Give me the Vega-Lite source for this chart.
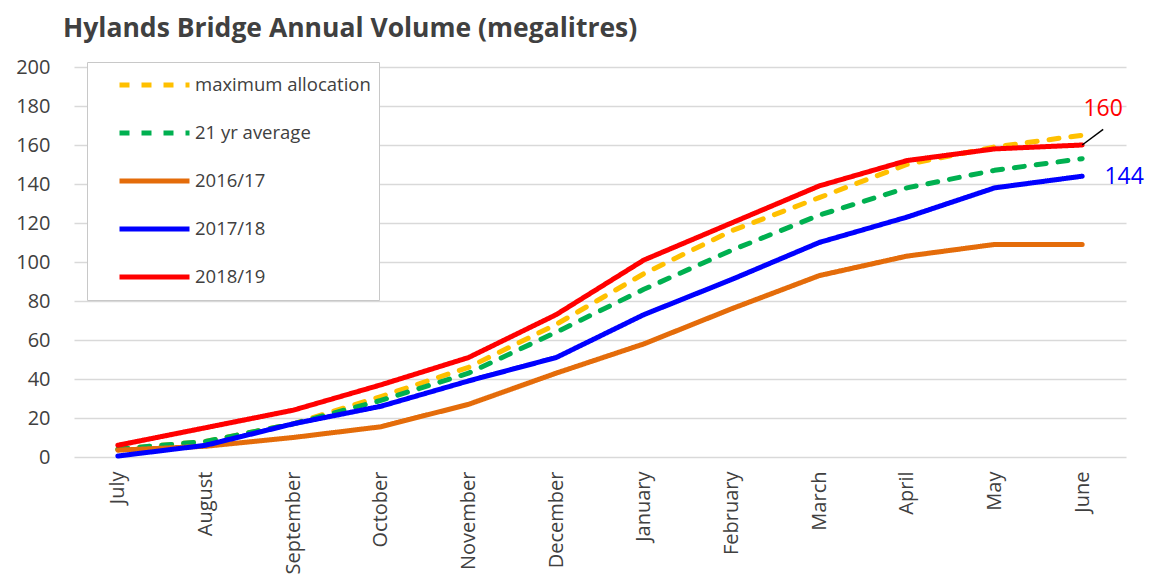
{
  "$schema": "https://vega.github.io/schema/vega-lite/v6.json",
  "autosize": "none",
  "width": 1052,
  "height": 390,
  "padding": {"left": 74, "top": 67, "right": 28, "bottom": 122},
  "background": "white",
  "title": {
    "text": "Hylands Bridge Annual Volume (megalitres)",
    "anchor": "start",
    "frame": "group",
    "dx": -11,
    "offset": 15,
    "font": "Open Sans",
    "fontSize": 26.5,
    "fontWeight": "bold",
    "color": "#404040"
  },
  "config": {
    "view": {"stroke": null},
    "font": "Open Sans"
  },
  "datasets": {
    "series": [
      {"month": "July", "series": "maximum allocation", "value": 4},
      {"month": "August", "series": "maximum allocation", "value": 8},
      {"month": "September", "series": "maximum allocation", "value": 17},
      {"month": "October", "series": "maximum allocation", "value": 31},
      {"month": "November", "series": "maximum allocation", "value": 46},
      {"month": "December", "series": "maximum allocation", "value": 68},
      {"month": "January", "series": "maximum allocation", "value": 94},
      {"month": "February", "series": "maximum allocation", "value": 116},
      {"month": "March", "series": "maximum allocation", "value": 133},
      {"month": "April", "series": "maximum allocation", "value": 150},
      {"month": "May", "series": "maximum allocation", "value": 159},
      {"month": "June", "series": "maximum allocation", "value": 165},
      {"month": "July", "series": "21 yr average", "value": 4},
      {"month": "August", "series": "21 yr average", "value": 8},
      {"month": "September", "series": "21 yr average", "value": 17},
      {"month": "October", "series": "21 yr average", "value": 29},
      {"month": "November", "series": "21 yr average", "value": 43},
      {"month": "December", "series": "21 yr average", "value": 64},
      {"month": "January", "series": "21 yr average", "value": 86},
      {"month": "February", "series": "21 yr average", "value": 106},
      {"month": "March", "series": "21 yr average", "value": 124},
      {"month": "April", "series": "21 yr average", "value": 138},
      {"month": "May", "series": "21 yr average", "value": 147},
      {"month": "June", "series": "21 yr average", "value": 153},
      {"month": "July", "series": "2016/17", "value": 3.5},
      {"month": "August", "series": "2016/17", "value": 5.5},
      {"month": "September", "series": "2016/17", "value": 10},
      {"month": "October", "series": "2016/17", "value": 15.5},
      {"month": "November", "series": "2016/17", "value": 27},
      {"month": "December", "series": "2016/17", "value": 43},
      {"month": "January", "series": "2016/17", "value": 58},
      {"month": "February", "series": "2016/17", "value": 76},
      {"month": "March", "series": "2016/17", "value": 93},
      {"month": "April", "series": "2016/17", "value": 103},
      {"month": "May", "series": "2016/17", "value": 109},
      {"month": "June", "series": "2016/17", "value": 109},
      {"month": "July", "series": "2017/18", "value": 0.5},
      {"month": "August", "series": "2017/18", "value": 6},
      {"month": "September", "series": "2017/18", "value": 17},
      {"month": "October", "series": "2017/18", "value": 26},
      {"month": "November", "series": "2017/18", "value": 39},
      {"month": "December", "series": "2017/18", "value": 51},
      {"month": "January", "series": "2017/18", "value": 73},
      {"month": "February", "series": "2017/18", "value": 91},
      {"month": "March", "series": "2017/18", "value": 110},
      {"month": "April", "series": "2017/18", "value": 123},
      {"month": "May", "series": "2017/18", "value": 138},
      {"month": "June", "series": "2017/18", "value": 144},
      {"month": "July", "series": "2018/19", "value": 6},
      {"month": "August", "series": "2018/19", "value": 15},
      {"month": "September", "series": "2018/19", "value": 24},
      {"month": "October", "series": "2018/19", "value": 37},
      {"month": "November", "series": "2018/19", "value": 51},
      {"month": "December", "series": "2018/19", "value": 73},
      {"month": "January", "series": "2018/19", "value": 101},
      {"month": "February", "series": "2018/19", "value": 120},
      {"month": "March", "series": "2018/19", "value": 139},
      {"month": "April", "series": "2018/19", "value": 152},
      {"month": "May", "series": "2018/19", "value": 158},
      {"month": "June", "series": "2018/19", "value": 160}
    ],
    "labels": [
      {"month": "June", "series": "2018/19", "value": 160, "label": "160", "end": 168},
      {"month": "June", "series": "2017/18", "value": 144, "label": "144", "end": 144}
    ]
  },
  "encoding": {
    "x": {
      "field": "month",
      "type": "ordinal",
      "sort": ["July", "August", "September", "October", "November", "December", "January", "February", "March", "April", "May", "June"],
      "scale": {"type": "point", "padding": 0.5},
      "axis": {
        "title": null,
        "labelAngle": -90,
        "labelFontSize": 20,
        "labelColor": "#404040",
        "labelPadding": 14,
        "ticks": false,
        "domain": false,
        "grid": false
      }
    },
    "y": {
      "field": "value",
      "type": "quantitative",
      "scale": {"domain": [0, 200], "nice": false},
      "axis": {
        "title": null,
        "values": [0, 20, 40, 60, 80, 100, 120, 140, 160, 180, 200],
        "labelFontSize": 20,
        "labelColor": "#404040",
        "labelPadding": 24,
        "ticks": false,
        "domain": false,
        "gridColor": "#d9d9d9",
        "gridWidth": 1.5
      }
    }
  },
  "layer": [
    {
      "data": {"name": "series"},
      "mark": {"type": "line", "strokeCap": "round", "strokeJoin": "round"},
      "encoding": {
        "color": {
          "field": "series",
          "type": "nominal",
          "scale": {
            "domain": ["maximum allocation", "21 yr average", "2016/17", "2017/18", "2018/19"],
            "range": ["#FFC000", "#00B050", "#E46C0A", "#0000FF", "#FF0000"]
          },
          "legend": {
            "title": null,
            "orient": "none",
            "legendX": 13,
            "legendY": -5,
            "direction": "vertical",
            "symbolType": "stroke",
            "symbolSize": 4900,
            "symbolStrokeWidth": 5,
            "symbolOffset": 22,
            "clipHeight": 30,
            "labelFontSize": 18.5,
            "labelColor": "#404040",
            "labelOffset": 3,
            "labelLimit": 260,
            "rowPadding": 18,
            "padding": 8,
            "fillColor": "white",
            "strokeColor": "#c8c8c8"
          }
        },
        "strokeDash": {
          "field": "series",
          "type": "nominal",
          "scale": {
            "domain": ["maximum allocation", "21 yr average", "2016/17", "2017/18", "2018/19"],
            "range": [[10, 12], [10, 12], [1, 0], [1, 0], [1, 0]]
          }
        },
        "strokeWidth": {
          "field": "series",
          "type": "nominal",
          "scale": {
            "domain": ["maximum allocation", "21 yr average", "2016/17", "2017/18", "2018/19"],
            "range": [5, 5, 4, 5, 5]
          },
          "legend": null
        }
      }
    },
    {
      "data": {"name": "labels"},
      "transform": [{"filter": "datum.label == '160'"}],
      "mark": {"type": "rule", "color": "black", "strokeWidth": 1.5, "x2Offset": 21},
      "encoding": {
        "y2": {"field": "end"},
        "x2": {"field": "month"}
      }
    },
    {
      "data": {"name": "labels"},
      "transform": [{"filter": "datum.label == '160'"}],
      "mark": {"type": "text", "fontSize": 23, "align": "center", "baseline": "middle", "dx": 21, "dy": -36},
      "encoding": {
        "text": {"field": "label"},
        "color": {"field": "series", "type": "nominal", "legend": null}
      }
    },
    {
      "data": {"name": "labels"},
      "transform": [{"filter": "datum.label == '144'"}],
      "mark": {"type": "text", "fontSize": 23, "align": "center", "baseline": "middle", "dx": 42, "dy": 1},
      "encoding": {
        "text": {"field": "label"},
        "color": {"field": "series", "type": "nominal", "legend": null}
      }
    }
  ]
}
